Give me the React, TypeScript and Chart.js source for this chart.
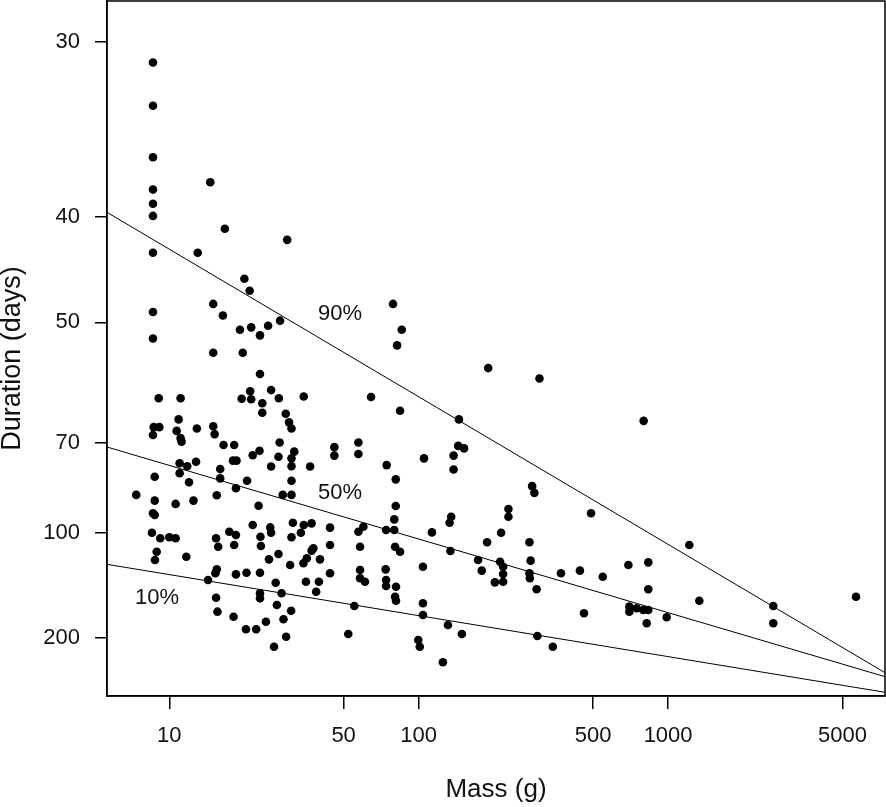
import { useEffect, useRef } from 'react';
import { Chart, registerables } from 'chart.js';

Chart.register(...registerables);

// body mass (g) and development duration (days) of each species
const massG = [
  8.6, 8.6, 8.6, 8.6, 8.6, 8.6, 8.6, 14.6, 16.7, 29.7,
  13.0, 20.0, 21.0, 8.6, 15.0, 16.4, 19.2, 21.3, 23.1, 24.9,
  27.8, 8.6, 15.0, 19.7, 23.1, 9.07, 11.1, 19.5, 21.1, 25.6,
  27.5, 34.6, 21.3, 23.6, 23.6, 10.9, 8.66, 9.12, 8.6, 10.7,
  11.1, 11.2, 12.9, 15.0, 15.2, 16.5, 18.2, 29.3, 30.2, 30.9,
  27.7, 31.7, 21.6, 23.0, 27.4, 30.9, 30.9, 18.0, 18.6, 11.0,
  11.8, 11.0, 12.8, 16.0, 16.0, 25.6, 8.74, 12.0, 20.5, 30.9,
  18.5, 7.37, 8.74, 10.6, 12.5, 15.5, 28.5, 30.9, 22.8, 8.6,
  8.74, 31.3, 21.6, 25.4, 25.6, 34.6, 8.52, 9.2, 10.0, 10.6,
  15.4, 17.4, 18.5, 23.2, 30.9, 33.7, 8.9, 8.76, 11.7, 15.7,
  18.2, 15.5, 15.3, 14.3, 15.4, 15.6, 18.1, 18.5, 20.4, 20.3,
  22.3, 23.3, 23.1, 23.1, 23.1, 24.4, 25.1, 27.4, 26.7, 28.2,
  27.0, 28.7, 29.4, 26.3, 30.5, 30.8, 35.3, 34.5, 35.6, 37.2,
  37.8, 39.8, 38.8, 40.2, 44.1, 44.1, 52.2, 55.2, 58.2, 58.2,
  58.2, 60.9, 80.4, 84.2, 73.7, 74.0, 74.0, 81.1, 80.4, 81.1,
  104, 104, 104, 99.6, 101, 125, 131, 134, 149, 173,
  179, 188, 214, 212, 218, 202, 218, 218, 278, 281,
  278, 279, 297, 299, 345, 372, 443, 547, 460, 693,
  833, 833, 699, 699, 748, 795, 833, 821, 987, 1216,
  1334, 2641, 2641, 5668, 78.9, 85.5, 81.9, 190, 64.4, 84.2,
  145, 45.9, 45.9, 57.3, 57.3, 36.7, 74.4, 80.9, 105, 144,
  152, 138, 138, 80.9, 79.8, 79.8, 74.0, 37.2, 44.1, 57.3,
  60.0, 135, 133, 113, 305, 798, 285, 291, 229, 229,
  491,
];

const durationDays = [
  30.9, 33.0, 35.9, 38.0, 39.0, 39.9, 42.9, 37.5, 40.9, 41.8,
  42.9, 45.3, 46.5, 48.8, 47.9, 49.2, 50.9, 50.6, 51.6, 50.4,
  49.8, 52.0, 53.9, 53.9, 57.0, 61.0, 61.0, 61.1, 59.8, 59.6,
  61.0, 60.7, 61.2, 61.9, 63.7, 65.0, 66.6, 66.6, 68.3, 67.4,
  69.0, 69.8, 66.9, 66.4, 68.1, 70.6, 70.6, 63.9, 65.6, 66.9,
  70.0, 72.2, 73.1, 72.0, 73.5, 73.9, 76.0, 74.5, 74.5, 75.2,
  76.0, 78.0, 74.8, 76.8, 79.5, 76.1, 79.0, 80.7, 80.2, 80.2,
  82.6, 84.8, 86.8, 88.0, 86.8, 84.9, 84.8, 84.8, 88.7, 91.6,
  92.3, 95.5, 96.5, 97.6, 100.1, 96.5, 100.1, 102.8, 102.3, 102.8,
  102.8, 99.6, 101.2, 102.0, 102.3, 100.1, 110.0, 115.0, 113.0, 107.2,
  106.3, 121.2, 124.0, 129.1, 144.9, 160.3, 166.7, 124.8, 123.6, 185.2,
  185.2, 106.8, 123.6, 140.6, 145.5, 173.6, 114.6, 111.3, 131.3, 140.6,
  152.5, 170.2, 198.1, 218.7, 118.2, 159.1, 130.5, 117.1, 113.9, 109.4,
  108.1, 130.5, 139.1, 114.6, 106.3, 124.0, 193.2, 153.7, 107.2, 121.6,
  127.8, 130.5, 107.2, 110.0, 121.2, 129.1, 134.1, 134.7, 143.9, 147.9,
  119.4, 150.7, 164.5, 204.5, 218.7, 261.1, 178.4, 109.6, 193.2, 115.0,
  122.1, 104.8, 100.1, 116.1, 119.4, 131.0, 130.5, 124.5, 104.8, 115.4,
  124.0, 127.8, 136.9, 196.8, 218.7, 124.0, 122.1, 126.6, 162.3, 118.2,
  116.5, 136.9, 154.4, 160.3, 156.3, 158.3, 158.3, 175.9, 167.5, 106.3,
  147.9, 153.7, 175.9, 143.9, 47.9, 50.9, 52.9, 56.1, 60.8, 63.3,
  65.0, 71.1, 73.2, 70.0, 72.8, 76.1, 75.7, 79.8, 73.9, 70.8,
  71.4, 73.2, 76.9, 88.8, 94.1, 98.8, 98.8, 95.8, 97.7, 99.6,
  97.3, 93.0, 95.5, 99.9, 57.7, 65.3, 81.9, 84.1, 89.9, 93.0,
  91.6,
];

// quantile regression lines, given at the two ends of the mass axis
const lineMass = [5.626, 7408];
const q90Days = [39.63, 299.8];
const q50Days = [71.07, 317.9];
const q10Days = [117.8, 416.1];

const quantileLabels = ['90%', '50%', '10%'];
const labelMass = [48.4, 48.4, 8.93];
const labelDays = [49.0, 84.2, 145.2];

const massTicks = [10, 50, 100, 500, 1000, 5000];
const durationTicks = [30, 40, 50, 70, 100, 200];
const massRange = [5.626, 7408];
const durationRange = [28.34, 449];

// duration axis is drawn on a reciprocal (rate) scale
const toRate = (days: number) => 1000 / days;

const FONT = '"Liberation Sans", Arial, sans-serif';

export default function App() {
  const canvasRef = useRef<HTMLCanvasElement | null>(null);

  useEffect(() => {
    if (!canvasRef.current) return;

    const overlay = {
      id: 'overlay',
      afterDatasetsDraw(chart: any) {
        const { ctx, chartArea, scales } = chart;
        ctx.save();
        ctx.strokeStyle = '#000';
        ctx.lineWidth = 1.5;
        ctx.strokeRect(
          chartArea.left,
          chartArea.top,
          chartArea.right - chartArea.left,
          chartArea.bottom - chartArea.top
        );
        ctx.fillStyle = '#111';
        ctx.font = `22px ${FONT}`;
        ctx.textAlign = 'center';
        ctx.textBaseline = 'middle';
        quantileLabels.forEach((t, i) => {
          ctx.fillText(
            t,
            scales.x.getPixelForValue(labelMass[i]),
            scales.y.getPixelForValue(toRate(labelDays[i]))
          );
        });
        // y axis title, sitting a little below the plot centre as in the original
        ctx.font = `27px ${FONT}`;
        ctx.translate(13, (chartArea.top + chartArea.bottom) / 2 + 10);
        ctx.rotate(-Math.PI / 2);
        ctx.fillText('Duration (days)', 0, 0);
        ctx.restore();
      },
    };

    const quantLine = (days: number[]) => ({
      data: lineMass.map((m, i) => ({ x: m, y: toRate(days[i]) })),
      showLine: true,
      pointRadius: 0,
      borderColor: '#000',
      borderWidth: 1,
      fill: false,
    });

    const chart = new Chart(canvasRef.current, {
      type: 'scatter',
      data: {
        datasets: [
          {
            data: massG.map((m, i) => ({ x: m, y: toRate(durationDays[i]) })),
            pointRadius: 4.3,
            pointHoverRadius: 4.3,
            backgroundColor: '#000',
            borderColor: '#000',
            borderWidth: 0,
          },
          quantLine(q90Days),
          quantLine(q50Days),
          quantLine(q10Days),
        ] as any,
      },
      options: {
        animation: false,
        responsive: true,
        maintainAspectRatio: false,
        events: [],
        layout: { autoPadding: false, padding: { top: 1, right: 1, left: 0, bottom: 0 } },
        plugins: {
          legend: { display: false },
          tooltip: { enabled: false },
        },
        scales: {
          x: {
            type: 'logarithmic',
            min: massRange[0],
            max: massRange[1],
            afterBuildTicks: (s: any) => {
              s.ticks = massTicks.map((v) => ({ value: v }));
            },
            afterFit: (s: any) => {
              s.height = 111;
              s.paddingLeft = 0;
              s.paddingRight = 0;
              s.paddingTop = 0;
              s.paddingBottom = 0;
            },
            ticks: {
              autoSkip: false,
              maxRotation: 0,
              padding: 14,
              color: '#111',
              font: { family: FONT, size: 22 },
              callback: (v: any) => String(v),
            },
            grid: {
              drawOnChartArea: false,
              drawTicks: true,
              tickLength: 13,
              color: '#000',
              lineWidth: 1.5,
            },
            border: { display: true, color: '#000', width: 1.5 },
            title: {
              display: true,
              text: 'Mass (g)',
              color: '#111',
              font: { family: FONT, size: 26 },
              padding: { top: 0, bottom: 2 },
            },
          },
          y: {
            type: 'linear',
            min: toRate(durationRange[1]),
            max: toRate(durationRange[0]),
            afterBuildTicks: (s: any) => {
              s.ticks = durationTicks.map((d) => ({ value: toRate(d) }));
            },
            afterFit: (s: any) => {
              s.width = 107;
              s.paddingLeft = 0;
              s.paddingRight = 0;
              s.paddingTop = 0;
              s.paddingBottom = 0;
            },
            ticks: {
              autoSkip: false,
              padding: 15,
              color: '#111',
              font: { family: FONT, size: 22 },
              callback: (v: any) => String(Math.round(1000 / Number(v))),
            },
            grid: {
              drawOnChartArea: false,
              drawTicks: true,
              tickLength: 12,
              color: '#000',
              lineWidth: 1.5,
            },
            border: { display: true, color: '#000', width: 1.5 },
          },
        },
      },
      plugins: [overlay],
    });

    return () => {
      chart.destroy();
    };
  }, []);

  return (
    <div style={{ position: 'absolute', left: 0, top: 0, width: 886, height: 807 }}>
      <canvas ref={canvasRef}></canvas>
    </div>
  );
}
